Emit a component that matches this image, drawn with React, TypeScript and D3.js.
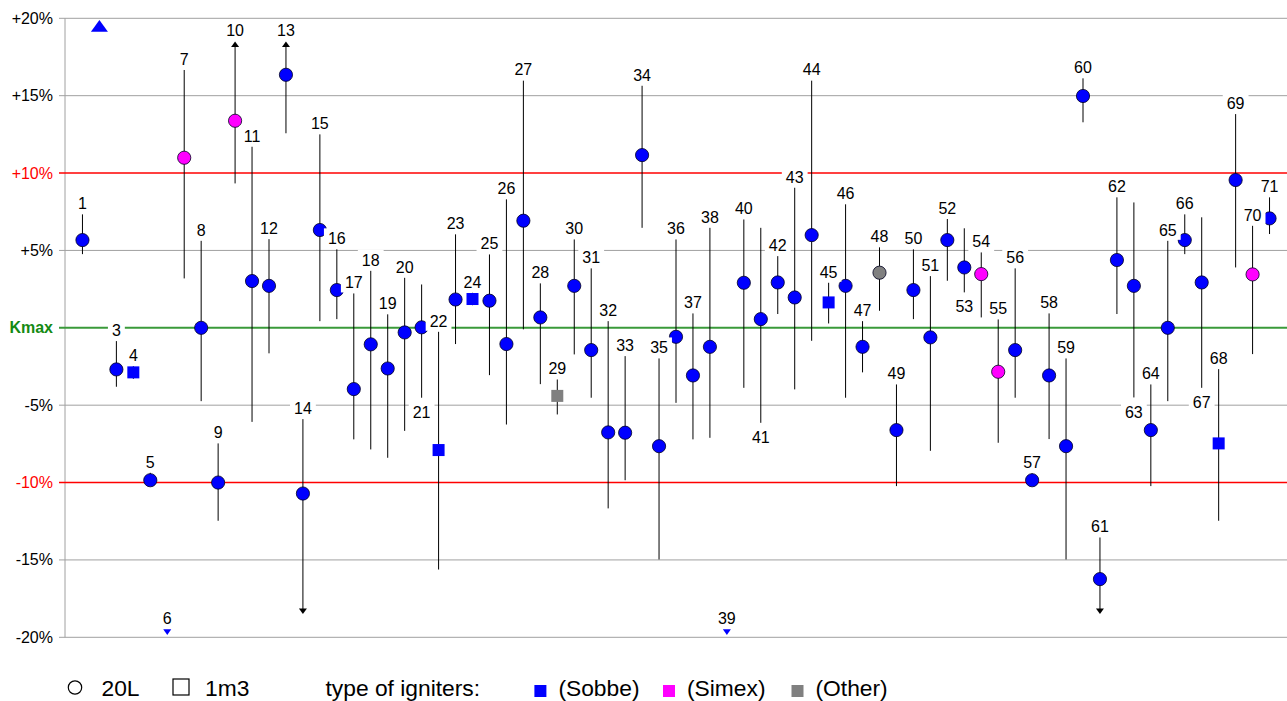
import React from "react";
import * as d3 from "d3";

// ---- data ----
const ids = d3.range(1, 72);
// central value (%); NaN entries are off-scale (see offHigh / offLow)
const values = [
  5.67, NaN, -2.69, -2.88, -9.85, NaN, 10.99, 0.0, -10.0, 13.38,
  3.02, 2.71, 16.35, -10.71, 6.32, 2.44, -3.96, -1.07, -2.63, -0.3,
  0.03, -7.9, 1.83, 1.86, 1.75, -1.05, 6.92, 0.67, -4.4, 2.71,
  -1.44, -6.76, -6.78, 11.16, -7.65, -0.58, -3.08, -1.23, NaN, 2.91,
  0.56, 2.93, 1.96, 5.99, 1.64, 2.71, -1.23, 3.56, -6.61, 2.44,
  -0.62, 5.67, 3.9, 3.47, -2.84, -1.44, -9.85, -3.08, -7.65, 14.98,
  -16.24, 4.38, 2.71, -6.61, 0.0, 5.67, 2.93, -7.47, 9.55, 3.45,
  7.07,
];
// upper end of the range bar (%)
const highs = [
  7.33, NaN, -0.86, -2.48, -9.37, NaN, 16.66, 5.62, -7.47, 20,
  11.7, 5.73, 20, -5.9, 12.5, 5.07, 2.22, 3.68, 0.87, 3.23,
  2.8, -0.26, 6.04, 2.26, 4.74, 8.3, 15.97, 2.87, -3.34, 5.71,
  3.84, 0.43, -1.83, 15.64, -1.98, 5.71, 0.93, 6.46, NaN, 7.0,
  6.46, 4.63, 9.05, 15.97, 2.91, 7.98, 0.43, 5.2, -3.66, 5.07,
  3.34, 7.03, 6.43, 4.87, 0.54, 3.84, -9.41, 0.93, -1.98, 16.12,
  -13.55, 8.43, 8.1, -3.66, 5.62, 7.33, 7.14, -2.67, 13.81, 6.59,
  8.43,
];
// lower end of the range bar (%)
const lows = [
  4.76, NaN, -3.81, -3.3, -10.2, NaN, 3.19, -4.74, -12.47, 9.33,
  -6.08, -1.65, 12.57, -20, 0.43, 0.56, -7.21, -7.86, -8.4, -6.66,
  -4.52, -15.62, -1.05, 1.46, -3.06, -6.25, -0.1, -3.64, -5.6, -1.72,
  -4.52, -11.67, -9.85, 6.46, -14.97, -4.85, -7.21, -7.11, NaN, -3.88,
  -6.14, 0.89, -3.98, -0.84, 0.28, -4.52, -2.88, 1.1, -10.23, 0.56,
  -7.95, 3.04, 2.29, 0.67, -7.43, -4.52, -10.2, -7.19, -14.97, 13.28,
  -20, 0.89, -4.5, -10.23, -4.74, 4.76, -3.88, -12.47, 3.9, -1.7,
  6.06,
];
// vessel: "20L" (circle) or "1m3" (square)
const vessels = ids.map((i) =>
  [4, 22, 24, 29, 45, 68].includes(i) ? "1m3" : "20L"
);
// igniter type
const igniters = ids.map((i) =>
  [7, 10, 54, 55, 70].includes(i) ? "Simex" : [29, 48].includes(i) ? "Other" : "Sobbe"
);
const offHigh = [2];
const offLow = [6, 39];
const labelBelow = [21, 41, 53, 63, 67];

const yTicks = [20, 15, 10, 5, 0, -5, -10, -15, -20];
const yTickLabels = ["+20%", "+15%", "+10%", "+5%", "Kmax", "-5%", "-10%", "-15%", "-20%"];
const limitLines = [10, -10];

const igniterColors: Record<string, string> = {
  Sobbe: "#0000ff",
  Simex: "#ff00ff",
  Other: "#808080",
};
const igniterNames = ["Sobbe", "Simex", "Other"];

// ---- layout ----
const W = 1287;
const H = 701;
const CLIP = 18.5;

export default function App() {
  const x = d3.scaleLinear().domain([0, 72]).range([65.5, 1286.5]);
  const y = d3.scaleLinear().domain([-20, 20]).range([637.3, 18.3]);
  const font = "'Liberation Sans', Arial, sans-serif";

  const points = ids.map((id, k) => ({
    id,
    v: values[k],
    hi: highs[k],
    lo: lows[k],
    vessel: vessels[k],
    ign: igniters[k],
  }));

  const labelW = (s: string) => s.length * 8.9 + 8;

  return (
    <svg
      width={W}
      height={H}
      style={{ position: "absolute", left: 0, top: 0, display: "block", background: "#fff" }}
      fontFamily={font}
    >
      {/* grid */}
      {yTicks.map((t) =>
        t === 0 || limitLines.includes(t) ? null : (
          <line key={"g" + t} x1={59} x2={W} y1={y(t)} y2={y(t)} stroke="#a0a0a0" strokeWidth={1} />
        )
      )}
      <line x1={65} x2={65} y1={y(20)} y2={y(-20)} stroke="#a0a0a0" strokeWidth={1} />
      {limitLines.map((t) => (
        <line key={"r" + t} x1={59} x2={W} y1={y(t)} y2={y(t)} stroke="#ff0000" strokeWidth={1.6} />
      ))}
      <line x1={59} x2={W} y1={y(0)} y2={y(0)} stroke="#3a9a3a" strokeWidth={2} />

      {/* y tick labels */}
      {yTicks.map((t, k) => (
        <text
          key={"yl" + t}
          x={53}
          y={y(t) + 5.5}
          textAnchor="end"
          fontSize={16}
          fontWeight={t === 0 ? "bold" : "normal"}
          fill={t === 0 ? "#138a13" : limitLines.includes(t) ? "#ff0000" : "#000"}
        >
          {yTickLabels[k]}
        </text>
      ))}

      {/* range bars */}
      {points.map((p) => {
        if (isNaN(p.hi)) return null;
        const cx = x(p.id);
        const hiC = Math.min(p.hi, CLIP);
        const loC = Math.max(p.lo, -CLIP);
        const yTop = p.hi > CLIP ? y(CLIP) + 5 : y(hiC);
        const yBot = p.lo < -CLIP ? y(-CLIP) - 5 : y(loC);
        return (
          <g key={"b" + p.id}>
            <line x1={cx} x2={cx} y1={yTop} y2={yBot} stroke="#000" strokeWidth={1} />
            {p.hi > CLIP && (
              <path
                d={`M${cx - 4},${y(CLIP) + 5.5}L${cx + 4},${y(CLIP) + 5.5}L${cx},${y(CLIP)}Z`}
                fill="#000"
              />
            )}
            {p.lo < -CLIP && (
              <path
                d={`M${cx - 4},${y(-CLIP) - 5.5}L${cx + 4},${y(-CLIP) - 5.5}L${cx},${y(-CLIP)}Z`}
                fill="#000"
              />
            )}
          </g>
        );
      })}

      {/* markers */}
      {points.map((p) => {
        const cx = x(p.id);
        const col = igniterColors[p.ign];
        if (offHigh.includes(p.id)) {
          const t = y(20) + 1.7;
          return (
            <path key={"m" + p.id} d={`M${cx - 8.5},${t + 11.7}L${cx + 8.5},${t + 11.7}L${cx},${t}Z`} fill={col} />
          );
        }
        if (offLow.includes(p.id)) {
          const b = y(-20) - 2.3;
          return <path key={"m" + p.id} d={`M${cx - 4},${b - 5.7}L${cx + 4},${b - 5.7}L${cx},${b}Z`} fill={col} />;
        }
        const cy = y(p.v);
        if (p.vessel === "1m3") {
          return <rect key={"m" + p.id} x={cx - 6} y={cy - 6} width={12} height={12} fill={col} />;
        }
        return <circle key={"m" + p.id} cx={cx} cy={cy} r={6.6} fill={col} stroke="#000020" strokeWidth={0.8} />;
      })}

      {/* number labels */}
      {points.map((p) => {
        if (offHigh.includes(p.id)) return null;
        const cx = x(p.id);
        const s = String(p.id);
        let cyc: number;
        if (offLow.includes(p.id)) {
          cyc = y(-20) - 8 - 11;
        } else if (labelBelow.includes(p.id)) {
          const yBot = p.lo < -CLIP ? y(-CLIP) : y(p.lo);
          cyc = yBot + 14.3;
        } else {
          const yTop = p.hi > CLIP ? y(CLIP) : y(p.hi);
          cyc = yTop - 11;
        }
        const w = labelW(s);
        return (
          <g key={"l" + p.id}>
            <rect x={cx - w / 2} y={cyc - 10} width={w} height={20} fill="#fff" />
            <text x={cx} y={cyc + 5.8} textAnchor="middle" fontSize={16} fill="#000">
              {s}
            </text>
          </g>
        );
      })}

      {/* legend */}
      <g fontSize={22.8} fill="#000">
        <circle cx={75} cy={687.5} r={6.7} fill="#fff" stroke="#000" strokeWidth={1.2} />
        <text x={101.5} y={695.5}>20L</text>
        <rect x={173} y={679} width={16} height={16} fill="#fff" stroke="#000" strokeWidth={1.2} />
        <text x={205} y={695.5}>1m3</text>
        <text x={325.5} y={695.5}>type of igniters:</text>
        {igniterNames.map((n, k) => {
          const lx = [534.4, 663, 791.5][k];
          return (
            <g key={"lg" + n}>
              <rect x={lx} y={685} width={12} height={12} fill={igniterColors[n]} />
              <text x={lx + 24} y={695.5}>{`(${n})`}</text>
            </g>
          );
        })}
      </g>
    </svg>
  );
}
